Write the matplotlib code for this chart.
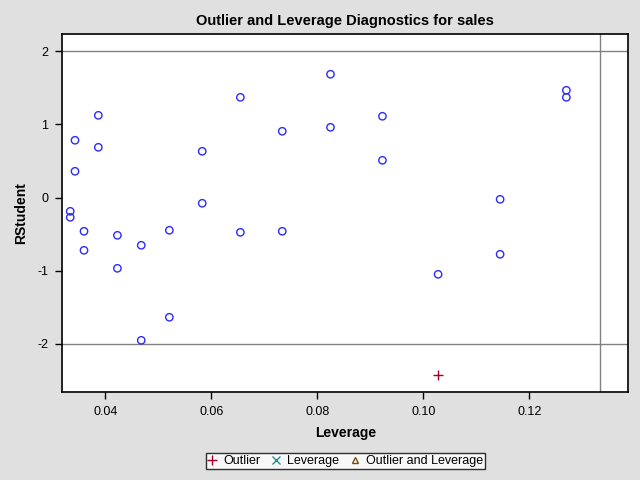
import matplotlib
matplotlib.use('Agg')
import matplotlib.pyplot as plt
from matplotlib.lines import Line2D

plt.rcParams['font.family'] = ['Liberation Sans', 'DejaVu Sans']
plt.rcParams['axes.unicode_minus'] = False

# leverage (hat diagonal) and studentized residuals
leverage = [0.0334, 0.0334, 0.0343, 0.0343, 0.0360, 0.0360, 0.0387, 0.0387,
            0.0423, 0.0423, 0.0468, 0.0468, 0.0521, 0.0521, 0.0583, 0.0583,
            0.0655, 0.0655, 0.0734, 0.0734, 0.0825, 0.0825, 0.0923, 0.0923,
            0.1028, 0.1028, 0.1145, 0.1145, 0.1270, 0.1270]
rstudent = [-0.187, -0.269, 0.784, 0.360, -0.460, -0.720, 1.125, 0.688,
            -0.515, -0.966, -0.651, -1.950, -0.446, -1.635, 0.633, -0.077,
            1.371, -0.474, 0.907, -0.460, 1.686, 0.961, 1.112, 0.510,
            -1.048, -2.428, -0.023, -0.774, 1.467, 1.371]

rs_cutoff = 2.0
lev_cutoff = 4 / 30  # 2p/n

xticks = [0.04, 0.06, 0.08, 0.10, 0.12]
yticks = [-2, -1, 0, 1, 2]

blue = '#2b2bff'
red = '#a8002a'
teal = '#1f8f8f'
brown = '#7a4a10'

normal_x, normal_y, out_x, out_y = [], [], [], []
lev_x, lev_y, both_x, both_y = [], [], [], []
for x, y in zip(leverage, rstudent):
    is_out = abs(y) > rs_cutoff
    is_lev = x > lev_cutoff
    if is_out and is_lev:
        both_x.append(x); both_y.append(y)
    elif is_out:
        out_x.append(x); out_y.append(y)
    elif is_lev:
        lev_x.append(x); lev_y.append(y)
    else:
        normal_x.append(x); normal_y.append(y)

fig = plt.figure(figsize=(6.4, 4.8), dpi=100, facecolor='#e0e0e0')
ax = fig.add_axes([0.0973, 0.184, 0.8844, 0.7445])
ax.set_facecolor('white')

ax.axhline(rs_cutoff, color='#808080', lw=1, zorder=1)
ax.axhline(-rs_cutoff, color='#808080', lw=1, zorder=1)
ax.axvline(lev_cutoff, color='#808080', lw=1, zorder=1)

ax.scatter(normal_x, normal_y, s=28, facecolors='none', edgecolors=blue, linewidths=1, zorder=3)
ax.scatter(out_x, out_y, s=45, marker='+', color=red, linewidths=1, zorder=3)
ax.scatter(lev_x, lev_y, s=35, marker='x', color=teal, linewidths=1, zorder=3)
ax.scatter(both_x, both_y, s=35, marker='^', facecolors='none', edgecolors=brown, linewidths=1, zorder=3)

ax.set_xlim(0.0319, 0.13868)
ax.set_ylim(-2.652, 2.232)
ax.set_xticks(xticks)
ax.set_xticklabels(['%.2f' % t for t in xticks])
ax.set_yticks(yticks)
ax.tick_params(direction='out', length=5, width=1, labelsize=9, pad=5)
for sp in ax.spines.values():
    sp.set_linewidth(1.2)

ax.set_xlabel('Leverage', fontsize=10, fontweight='bold', labelpad=6)
ax.set_ylabel('RStudent', fontsize=10, fontweight='bold', labelpad=7)
ax.set_title('Outlier and Leverage Diagnostics for sales', fontsize=10.5,
             fontweight='bold', pad=7)

handles = [
    Line2D([], [], marker='+', color=red, ls='none', ms=7, mew=1),
    Line2D([], [], marker='x', color=teal, ls='none', ms=5.5, mew=1),
    Line2D([], [], marker='^', color=brown, mfc='none', ls='none', ms=4.5, mew=1),
]
leg = fig.legend(handles, ['Outlier', 'Leverage', 'Outlier and Leverage'],
                 loc='center', bbox_to_anchor=(0.5395, 0.0395), ncol=3,
                 frameon=True, fancybox=False, fontsize=9, handlelength=0.8,
                 handletextpad=0.45, columnspacing=0.9, borderpad=0.15,
                 borderaxespad=0)
leg.get_frame().set_edgecolor('black')
leg.get_frame().set_linewidth(1)

fig.savefig('out.png', dpi=100, facecolor=fig.get_facecolor())
